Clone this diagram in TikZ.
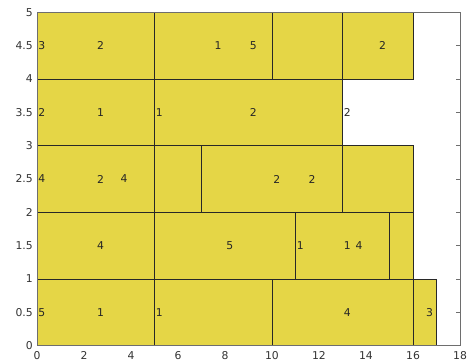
\documentclass[tikz,border=0pt]{standalone}
\usepackage{fontspec}
\setmainfont{DejaVu Sans}
\definecolor{barfill}{RGB}{229,214,70}
\definecolor{baredge}{RGB}{40,40,40}
\definecolor{axisgray}{RGB}{110,110,110}
\tikzset{
  block/.style={fill=barfill,draw=baredge,line width=0.7pt},
  lbl/.style={anchor=west,inner sep=1.2pt,font=\fontsize{10.8}{12}\selectfont,text=black!85},
  ticklbl/.style={font=\fontsize{10.8}{12}\selectfont,text=black!80,inner sep=1pt},
  axisline/.style={draw=axisgray,line width=0.7pt}
}
\begin{document}
\begin{tikzpicture}[x=23.5pt,y=66.68pt]
\useasboundingbox (-1.5745,-0.2445) rectangle (18.383,5.1845);
% blocks
\foreach \a/\b/\r in {0/5/4,5/10/4,10/13/4,13/16/4,
                      0/5/3,5/13/3,
                      0/5/2,5/7/2,7/13/2,13/16/2,
                      0/5/1,5/11/1,11/15/1,15/16/1,
                      0/5/0,5/10/0,10/16/0,16/17/0}
  \draw[block] (\a,\r) rectangle (\b,\r+1);
% axes box
\draw[axisline] (0,0) rectangle (18,5);
\foreach \y in {0.5,1,...,4.5} \draw[axisline] (18,\y) -- ++(-4pt,0);
% tick labels
\foreach \y/\t in {0/0,0.5/0.5,1/1,1.5/1.5,2/2,2.5/2.5,3/3,3.5/3.5,4/4,4.5/4.5,5/5}
  \node[ticklbl,anchor=east] (yl\t) at (-3pt,\y) {\t};
\foreach \x in {0,2,...,18}
  \node[ticklbl,anchor=north] (xl\x) at (\x,-5pt) {\x};
% labels
\node[lbl] (t1) at (0,4.5) {3};
\node[lbl] (t2) at (2.5,4.5) {2};
\node[lbl] (t3) at (7.5,4.5) {1};
\node[lbl] (t4) at (9,4.5) {5};
\node[lbl] (t5) at (14.5,4.5) {2};
\node[lbl] (t6) at (0,3.5) {2};
\node[lbl] (t7) at (2.5,3.5) {1};
\node[lbl] (t8) at (5,3.5) {1};
\node[lbl] (t9) at (9,3.5) {2};
\node[lbl] (t10) at (13,3.5) {2};
\node[lbl] (t11) at (0,2.5) {4};
\node[lbl] (t12) at (2.5,2.5) {2};
\node[lbl] (t13) at (3.5,2.5) {4};
\node[lbl] (t14) at (10,2.5) {2};
\node[lbl] (t15) at (11.5,2.5) {2};
\node[lbl] (t16) at (2.5,1.5) {4};
\node[lbl] (t17) at (8,1.5) {5};
\node[lbl] (t18) at (11,1.5) {1};
\node[lbl] (t19) at (13,1.5) {1};
\node[lbl] (t20) at (13.5,1.5) {4};
\node[lbl] (t21) at (0,0.5) {5};
\node[lbl] (t22) at (2.5,0.5) {1};
\node[lbl] (t23) at (5,0.5) {1};
\node[lbl] (t24) at (13,0.5) {4};
\node[lbl] (t25) at (16.5,0.5) {3};
\end{tikzpicture}
\end{document}
